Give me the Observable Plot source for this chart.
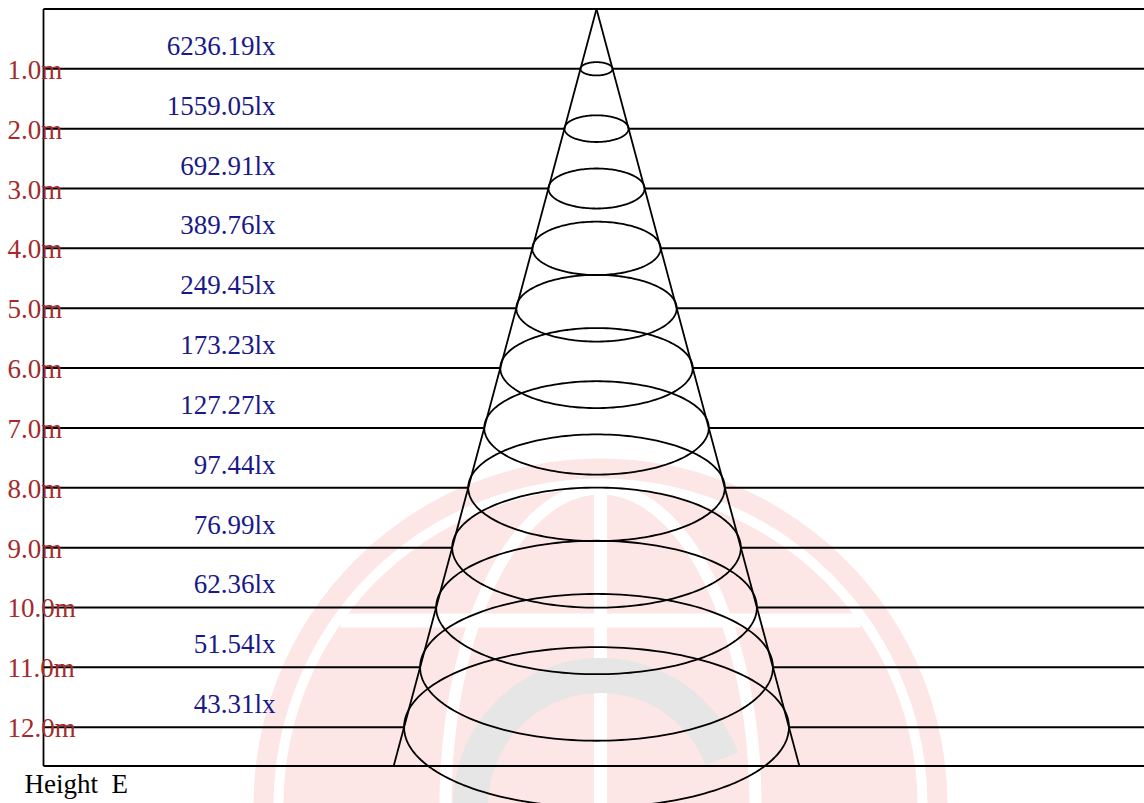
<!DOCTYPE html>
<html><head><meta charset="utf-8">
<script src="https://cdn.jsdelivr.net/npm/d3@7"></script>
<script src="https://cdn.jsdelivr.net/npm/@observablehq/plot@0.6"></script>
<style>html,body{margin:0;padding:0;background:#fff;} svg{display:block;} svg text{font-family:"Liberation Serif","Times New Roman",serif !important;}</style>
</head><body><div id="chart"></div>
<script>
// ---- data ----
const heights = [1, 2, 3, 4, 5, 6, 7, 8, 9, 10, 11, 12];
const heightLabels = ["1.0m","2.0m","3.0m","4.0m","5.0m","6.0m","7.0m","8.0m","9.0m","10.0m","11.0m","12.0m"];
const luxValues = [6236.19, 1559.05, 692.91, 389.76, 249.45, 173.23, 127.27, 97.44, 76.99, 62.36, 51.54, 43.31];
const luxLabels = ["6236.19lx","1559.05lx","692.91lx","389.76lx","249.45lx","173.23lx","127.27lx","97.44lx","76.99lx","62.36lx","51.54lx","43.31lx"];
const beamAngle = 30;        // degrees (full beam)
const baseHeight = 12.65;    // metres, cone base line
const xExtent = [-9.24, 9.156];
const axisTitle = "Height\u00a0\u00a0E";

// ---- geometry ----
const W = 1144, H = 803, mT = 8.45, mB = 37.4, mL = 43, mR = 0;
const k = (H - mT - mB) / baseHeight; // px per metre
const tanHalf = Math.tan(beamAngle / 2 * Math.PI / 180);
const flatten = 0.416;
const rad = h => h * tanHalf;

const rows = heights.map((h, i) => ({h, r: rad(h), hl: heightLabels[i], lux: luxValues[i], ll: luxLabels[i]}));

const ellipsePts = [];
for (const d of rows) {
  for (let a = 0; a <= 360; a += 2) {
    const t = a * Math.PI / 180;
    ellipsePts.push({h: d.h, x: d.r * Math.cos(t), y: d.h + flatten * d.r * Math.sin(t)});
  }
}
const segs = [];
for (const d of rows) {
  segs.push({x1: xExtent[0], x2: -d.r, y: d.h});
  segs.push({x1: d.r, x2: xExtent[1], y: d.h});
}
segs.push({x1: xExtent[0], x2: xExtent[1], y: 0});
segs.push({x1: xExtent[0], x2: xExtent[1], y: baseHeight});
const cone = [
  {x1: 0, y1: 0, x2: -rad(baseHeight), y2: baseHeight},
  {x1: 0, y1: 0, x2: rad(baseHeight), y2: baseHeight},
  {x1: xExtent[0], y1: 0, x2: xExtent[0], y2: baseHeight}
];

// ---- faint background watermark (decoration) ----
const pink = "#fde6e6", gray = "#e6e6e6";
const wmC = {x: 4 / k, y: (805 - mT) / k};
function arc(rpx, a0, a1, id) {
  const pts = [];
  for (let a = a0; a <= a1; a += 1) {
    const t = a * Math.PI / 180;
    pts.push({id, x: wmC.x + rpx / k * Math.cos(t), y: wmC.y - rpx / k * Math.sin(t)});
  }
  return pts;
}
function ell(rx, ry, id) {
  const pts = [];
  for (let a = 0; a <= 360; a += 2) {
    const t = a * Math.PI / 180;
    pts.push({id, x: wmC.x + rx / k * Math.cos(t), y: wmC.y - ry / k * Math.sin(t)});
  }
  return pts;
}
const meridians = [...ell(155, 317, "m1")];
const grayArc = arc(130, 21, 200, "g");
const font = "Liberation Serif";
const fs = 27;

const plot = Plot.plot({
  width: W, height: H,
  marginTop: mT, marginBottom: mB, marginLeft: mL, marginRight: mR,
  x: {domain: xExtent, axis: null},
  y: {domain: [0, baseHeight], reverse: true, axis: null},
  style: {background: "white", fontFamily: font, overflow: "visible"},
  marks: [
    // watermark
    Plot.dot([wmC], {x: "x", y: "y", r: 317, fill: pink, stroke: "none"}),
    Plot.dot([wmC], {x: "x", y: "y", r: 337, fill: "none", stroke: pink, strokeWidth: 20}),
    Plot.line(meridians, {x: "x", y: "y", z: "id", stroke: "white", strokeWidth: 12}),
    Plot.link([{x1: wmC.x, x2: wmC.x, y1: wmC.y - 317 / k, y2: wmC.y + 2}], {x1: "x1", x2: "x2", y1: "y1", y2: "y2", stroke: "white", strokeWidth: 13}),
    Plot.link([{x1: wmC.x - 260 / k, x2: wmC.x + 260 / k, y: wmC.y - 185 / k}], {x1: "x1", x2: "x2", y1: "y", y2: "y", stroke: "white", strokeWidth: 14}),
    Plot.line(grayArc, {x: "x", y: "y", z: "id", stroke: gray, strokeWidth: 35, strokeLinecap: "butt"}),
    // chart
    Plot.link(segs, {x1: "x1", x2: "x2", y1: "y", y2: "y", stroke: "black", strokeWidth: 2}),
    Plot.link(cone, {x1: "x1", y1: "y1", x2: "x2", y2: "y2", stroke: "black", strokeWidth: 1.8}),
    Plot.line(ellipsePts, {x: "x", y: "y", z: "h", stroke: "black", strokeWidth: 1.8, curve: "linear"}),
    Plot.text(rows, {x: xExtent[0], y: "h", text: "ll", textAnchor: "end", lineAnchor: "bottom", dx: 232, dy: -14, fill: "#191988", fontSize: fs, fontFamily: font}),
    Plot.text(rows, {x: xExtent[0], y: "h", text: "hl", textAnchor: "start", lineAnchor: "bottom", dx: -36, dy: 10, fill: "#a52a2a", fontSize: fs, fontFamily: font}),
    Plot.text([axisTitle], {x: xExtent[0], y: baseHeight, text: d => d, textAnchor: "start", lineAnchor: "bottom", dx: -19, dy: 27, fill: "black", fontSize: fs, fontFamily: font})
  ]
});
document.getElementById("chart").appendChild(plot);
</script>
</body></html>
